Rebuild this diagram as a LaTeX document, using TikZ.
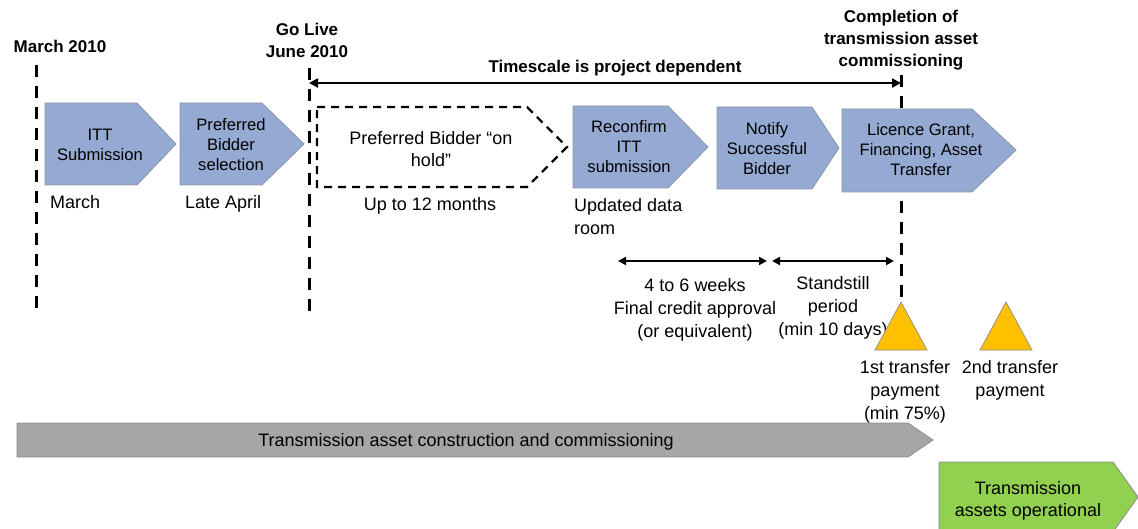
\documentclass[tikz,border=0pt]{standalone}
\usepackage{fontspec}
\setmainfont{Liberation Sans}
\usetikzlibrary{arrows.meta}

\definecolor{stageblue}{HTML}{95AAD2}
\definecolor{stageedge}{HTML}{8C95A8}
\definecolor{bargrey}{HTML}{A6A6A6}
\definecolor{baredge}{HTML}{8C8C8C}
\definecolor{paygold}{HTML}{FFC000}
\definecolor{opgreen}{HTML}{92D050}

\begin{document}
\begin{tikzpicture}[x=1pt,y=-1pt,
  stage/.style={fill=stageblue,draw=stageedge,line width=0.8pt},
  holdbox/.style={draw=black,line width=2.4pt,dash pattern=on 8pt off 6pt},
  milestone/.style={draw=black,line width=3pt,dash pattern=on 12pt off 9pt},
  boxtext/.style={font=\fontsize{16.6}{20}\selectfont,align=center,inner sep=0pt},
  lbl/.style={font=\fontsize{18}{23}\selectfont,align=center,inner sep=0pt},
  head/.style={font=\bfseries\fontsize{17}{22}\selectfont,align=center,inner sep=0pt},
  bartext/.style={font=\fontsize{18}{22}\selectfont,align=center,inner sep=0pt},
  span/.style={{Triangle[length=8pt,width=8pt]}-{Triangle[length=8pt,width=8pt]},line width=2pt},
  payment/.style={fill=paygold,draw=baredge,line width=0.7pt}]

\useasboundingbox (0,0) rectangle (1138,529);
\clip (0,0) rectangle (1138,529);

% milestone markers
\coordinate (marchTop) at (36,65);
\coordinate (marchBot) at (36,313);
\coordinate (liveTop) at (309,68);
\coordinate (liveBot) at (309,318);
\coordinate (doneTop) at (901,75);
\coordinate (doneBot) at (901,302);
\draw[milestone] (marchTop) -- (marchBot);
\draw[milestone] (liveTop) -- (liveBot);
\draw[milestone] (doneTop) -- (doneBot);

% headings
\node[head] (march) at (60,46) {March 2010};
\node[head] (golive) at (307,40) {Go Live\\June 2010};
\node[head] (complete) at (901,40) {Completion of\\transmission asset\\commissioning};
\node[head] (timescale) at (615,68) {Timescale is project dependent};

% project timescale
\coordinate (tsL) at (309,83);
\coordinate (tsR) at (901,83);
\draw[{Triangle[length=9pt,width=9pt]}-{Triangle[length=9pt,width=9pt]},line width=2.5pt] (tsL) -- (tsR);

% process stages
\draw[stage] (45,103) -- (137,103) -- (176,144) -- (137,185) -- (45,185) -- cycle;
\node[boxtext] (itt) at (100,145) {ITT\\Submission};
\draw[stage] (180,103) -- (262,103) -- (304,144) -- (262,185) -- (180,185) -- cycle;
\node[boxtext] (pref) at (231,145) {Preferred\\Bidder\\selection};
\draw[holdbox] (317,107) -- (527,107) -- (567,147) -- (527,187) -- (317,187) -- cycle;
\node[lbl,font=\fontsize{18}{21.5}\selectfont] (hold) at (431,149) {Preferred Bidder “on\\hold”};
\draw[stage] (573,106) -- (668,106) -- (708,147) -- (668,188) -- (573,188) -- cycle;
\node[boxtext] (reconfirm) at (629,147) {Reconfirm\\ITT\\submission};
\draw[stage] (717,107) -- (812,107) -- (839,148) -- (812,189) -- (717,189) -- cycle;
\node[boxtext] (notify) at (767,149) {Notify\\Successful\\Bidder};
\draw[stage] (842,109) -- (972,109) -- (1016,150) -- (972,192) -- (842,192) -- cycle;
\node[boxtext] (licence) at (921,150) {Licence Grant,\\Financing, Asset\\Transfer};

% timing labels
\node[lbl,anchor=west] (lMarch) at (50,202) {March};
\node[lbl,anchor=west] (lApril) at (185,204) {Late April};
\node[lbl] (lHold) at (430,206) {Up to 12 months};
\node[lbl,anchor=west,align=left] (lRoom) at (574,217) {Updated data\\room};

% approval and standstill periods
\coordinate (credL) at (618,261);
\coordinate (credR) at (767,261);
\coordinate (stillL) at (772,261);
\coordinate (stillR) at (894,261);
\draw[span] (credL) -- (credR);
\draw[span] (stillL) -- (stillR);
\node[lbl] (credit) at (695,310) {4 to 6 weeks\\Final credit approval\\(or equivalent)};
\node[lbl] (still) at (833,308) {Standstill\\period\\(min 10 days)};

% transfer payments
\draw[payment] (901,302) -- (927,350) -- (875,350) -- cycle;
\draw[payment] (1006,302) -- (1032,350) -- (980,350) -- cycle;
\node[lbl] (pay1) at (905,392) {1st transfer\\payment\\(min 75\%)};
\node[lbl] (pay2) at (1010,380) {2nd transfer\\payment};

% construction and operation
\draw[fill=bargrey,draw=baredge,line width=0.8pt] (17,423) -- (908,423) -- (933,440) -- (908,457) -- (17,457) -- cycle;
\node[bartext] (build) at (466,442) {Transmission asset construction and commissioning};
\draw[fill=opgreen,draw=baredge,line width=0.8pt] (939,462) -- (1113,462) -- (1138,497) -- (1113,532) -- (939,532) -- cycle;
\node[bartext] (operate) at (1028,501) {Transmission\\assets operational};
\end{tikzpicture}
\end{document}
